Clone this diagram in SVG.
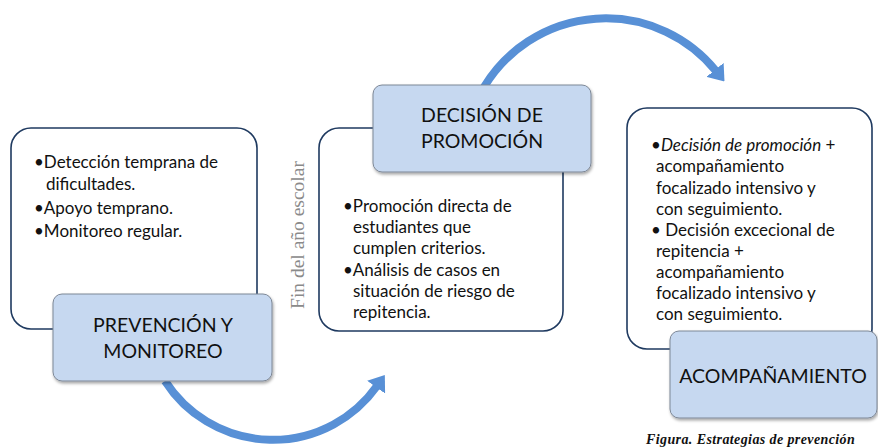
<svg xmlns="http://www.w3.org/2000/svg" width="878" height="447" viewBox="0 0 878 447">
<defs>
<style>
.card{fill:#ffffff;stroke:#1f3a60;stroke-width:1.6}
.title{fill:#c6d8f0;stroke:#7d8796;stroke-width:1}
.tt{font-family:Lato,"Liberation Sans",sans-serif;font-size:19.5px;fill:#111;text-anchor:middle}
.bt{font-family:Lato,"Liberation Sans",sans-serif;font-size:17px;fill:#111}
.arc{fill:none;stroke:#5890d6;stroke-width:8}
.vt{font-family:"Liberation Serif",serif;font-size:19.5px;fill:#8a8a8a}
.cap{font-family:"Liberation Serif",serif;font-size:14px;letter-spacing:0.4px;font-weight:bold;font-style:italic;fill:#111}
</style>
<filter id="sh" x="-10%" y="-10%" width="130%" height="140%">
<feDropShadow dx="1" dy="2" stdDeviation="1.5" flood-color="#000" flood-opacity="0.35"/>
</filter>
<marker id="ah" viewBox="0 0 10 10" refX="1" refY="5" markerUnits="userSpaceOnUse" markerWidth="15" markerHeight="22" orient="auto" preserveAspectRatio="none">
<path d="M0,0 L10,5 L0,10 z" fill="#5890d6"/>
</marker>
</defs>

<g id="connectors">
<path class="arc" d="M165,381 A128 128 0 0 0 377,386" marker-end="url(#ah)"/>
<path class="arc" d="M484,87 A142 142 0 0 1 716,71" marker-end="url(#ah)"/>
</g>

<g id="card-prevencion">
<rect class="card" x="11" y="128" width="246" height="201" rx="20"/>
<text class="bt" x="34" y="168">•Detección temprana de</text>
<text class="bt" x="46" y="190">dificultades.</text>
<text class="bt" x="34" y="214">•Apoyo temprano.</text>
<text class="bt" x="34" y="237">•Monitoreo regular.</text>
</g>

<g id="node-prevencion">
<rect class="title" x="53" y="294" width="219" height="87" rx="9" filter="url(#sh)"/>
<text class="tt" x="163" y="332">PREVENCIÓN Y</text>
<text class="tt" x="163" y="358">MONITOREO</text>
</g>

<g id="label-fin">
<text class="vt" transform="translate(304,235) rotate(-90)" text-anchor="middle">Fin del año escolar</text>
</g>

<g id="card-decision">
<rect class="card" x="319" y="128" width="244" height="203" rx="20"/>
<text class="bt" x="343" y="212">•Promoción directa de</text>
<text class="bt" x="353" y="233">estudiantes que</text>
<text class="bt" x="353" y="254">cumplen criterios.</text>
<text class="bt" x="343" y="276">•Análisis de casos en</text>
<text class="bt" x="353" y="297">situación de riesgo de</text>
<text class="bt" x="353" y="318">repitencia.</text>
</g>

<g id="node-decision">
<rect class="title" x="373" y="85" width="218" height="87" rx="9" filter="url(#sh)"/>
<text class="tt" x="482" y="122">DECISIÓN DE</text>
<text class="tt" x="482" y="148">PROMOCIÓN</text>
</g>

<g id="card-acompanamiento">
<rect class="card" x="627" y="108" width="245" height="241" rx="20"/>
<text class="bt" x="651" y="151">•<tspan font-style="italic">Decisión de promoción</tspan> +</text>
<text class="bt" x="656" y="172">acompañamiento</text>
<text class="bt" x="656" y="194">focalizado intensivo y</text>
<text class="bt" x="656" y="215">con seguimiento.</text>
<text class="bt" x="651" y="236">• Decisión excecional de</text>
<text class="bt" x="656" y="257">repitencia +</text>
<text class="bt" x="656" y="278">acompañamiento</text>
<text class="bt" x="656" y="299">focalizado intensivo y</text>
<text class="bt" x="656" y="320">con seguimiento.</text>
</g>

<g id="node-acompanamiento">
<rect class="title" x="670" y="331" width="207" height="87" rx="9" filter="url(#sh)"/>
<text class="tt" x="773" y="383">ACOMPAÑAMIENTO</text>
</g>

<g id="caption">
<text class="cap" x="646" y="444">Figura. Estrategias de prevención</text>
</g>
</svg>
